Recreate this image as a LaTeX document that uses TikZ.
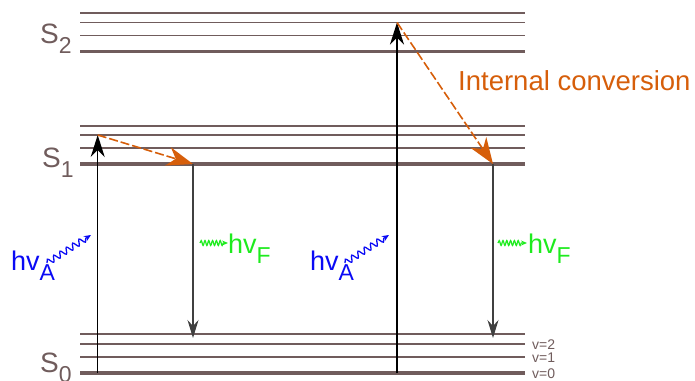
\documentclass[tikz,border=0pt]{standalone}
\usepackage{fontspec}
\setmainfont{Liberation Sans}
\usetikzlibrary{arrows.meta,decorations.pathmorphing}
\definecolor{lev}{RGB}{112,92,92}
\definecolor{ic}{RGB}{214,94,10}
\definecolor{absb}{RGB}{10,10,245}
\definecolor{flu}{RGB}{30,235,30}
\begin{document}
\begin{tikzpicture}[x=1pt,y=-1pt,
 vib/.style={draw=lev,line width=1.9pt},
 gnd/.style={draw=lev,line width=3.6pt},
 excite/.style={draw=black,line width=1.5pt,-{Stealth[length=22pt,width=14pt,inset=7pt]}},
 emit/.style={draw=black!75,line width=1.2pt,-{Stealth[length=18pt,width=11pt,inset=6pt]}},
 conv/.style={draw=ic,line width=1.6pt,dash pattern=on 9pt off 3pt,-{Stealth[length=26pt,width=19pt,inset=8pt]}},
 wavyA/.style={draw=absb,line width=1.3pt,decorate,decoration={snake,amplitude=3pt,segment length=7.5pt,post length=5pt},-{Stealth[length=7pt,width=6pt]}},
 wavyF/.style={draw=flu,line width=1.2pt,decorate,decoration={snake,amplitude=2.5pt,segment length=3.8pt,post length=4pt},-{Stealth[length=6pt,width=5pt]}},
 slab/.style={anchor=base west,text=lev,font=\fontsize{28}{28}\selectfont,inner sep=0pt},
 vlab/.style={anchor=base west,text=lev,font=\fontsize{14}{14}\selectfont,inner sep=0pt},
 hvA/.style={anchor=base west,text=absb,font=\fontsize{27}{27}\selectfont,inner sep=0pt},
 hvF/.style={anchor=base west,text=flu,font=\fontsize{27}{27}\selectfont,inner sep=0pt},
 iclab/.style={anchor=base west,text=ic,font=\fontsize{27.5}{27.5}\selectfont,inner sep=0pt}
]
\useasboundingbox (0,0) rectangle (695,380);
\newcommand{\subl}[1]{\raisebox{-10pt}{\fontsize{23}{23}\selectfont #1}}
% S2 levels
\draw[vib] (80,13.3) -- (525,13.3);
\draw[vib] (80,22.5) -- (525,22.5);
\draw[vib] (80,35.5) -- (525,35.5);
\draw[gnd] (80,51.5) -- (525,51.5);
% S1 levels
\draw[vib] (80,125.7) -- (525,125.7);
\draw[vib] (80,135) -- (525,135);
\draw[vib] (80,147.7) -- (525,147.7);
\draw[gnd] (80,164) -- (525,164);
% S0 levels
\draw[vib] (80,334.3) -- (525,334.3);
\draw[vib] (80,344) -- (525,344);
\draw[vib] (80,356.7) -- (525,356.7);
\draw[gnd] (80,373) -- (525,373);
% state labels
\node[slab] (S2) at (40,43) {S\subl{2}};
\node[slab] (S1) at (42,167) {S\subl{1}};
\node[slab] (S0) at (40,372) {S\subl{0}};
\node[vlab] (v2) at (532,349) {v=2};
\node[vlab] (v1) at (532,362.5) {v=1};
\node[vlab] (v0) at (532,378) {v=0};
% coordinates
\coordinate (a0) at (97.7,373);
\coordinate (a1) at (97.7,135);
\coordinate (b1) at (193,164);
\coordinate (b0) at (193,338);
\coordinate (c0) at (397,373);
\coordinate (c2) at (397,22.5);
\coordinate (d1) at (493,164);
\coordinate (d0) at (493,338);
% transitions
\draw[excite] (a0) -- (a1);
\draw[conv] (a1) -- (b1);
\draw[emit] (b1) -- (b0);
\draw[excite] (c0) -- (c2);
\draw[conv] (c2) -- (d1);
\draw[emit] (d1) -- (d0);
\node[iclab] (ic) at (458,90) {Internal conversion};
% photons
\coordinate (wa1s) at (47,263);
\coordinate (wa1e) at (91,235);
\coordinate (wa2s) at (345,263);
\coordinate (wa2e) at (389,235);
\draw[wavyA] (wa1s) -- (wa1e);
\draw[wavyA] (wa2s) -- (wa2e);
\node[hvA] (hA1) at (11,270) {hv\subl{A}};
\node[hvA] (hA2) at (310,270) {hv\subl{A}};
\coordinate (wf1s) at (200,243);
\coordinate (wf1e) at (228,243);
\coordinate (wf2s) at (498,243);
\coordinate (wf2e) at (527,243);
\draw[wavyF] (wf1s) -- (wf1e);
\draw[wavyF] (wf2s) -- (wf2e);
\node[hvF] (hF1) at (228,253) {hv\subl{F}};
\node[hvF] (hF2) at (528,253) {hv\subl{F}};
\end{tikzpicture}
\end{document}
